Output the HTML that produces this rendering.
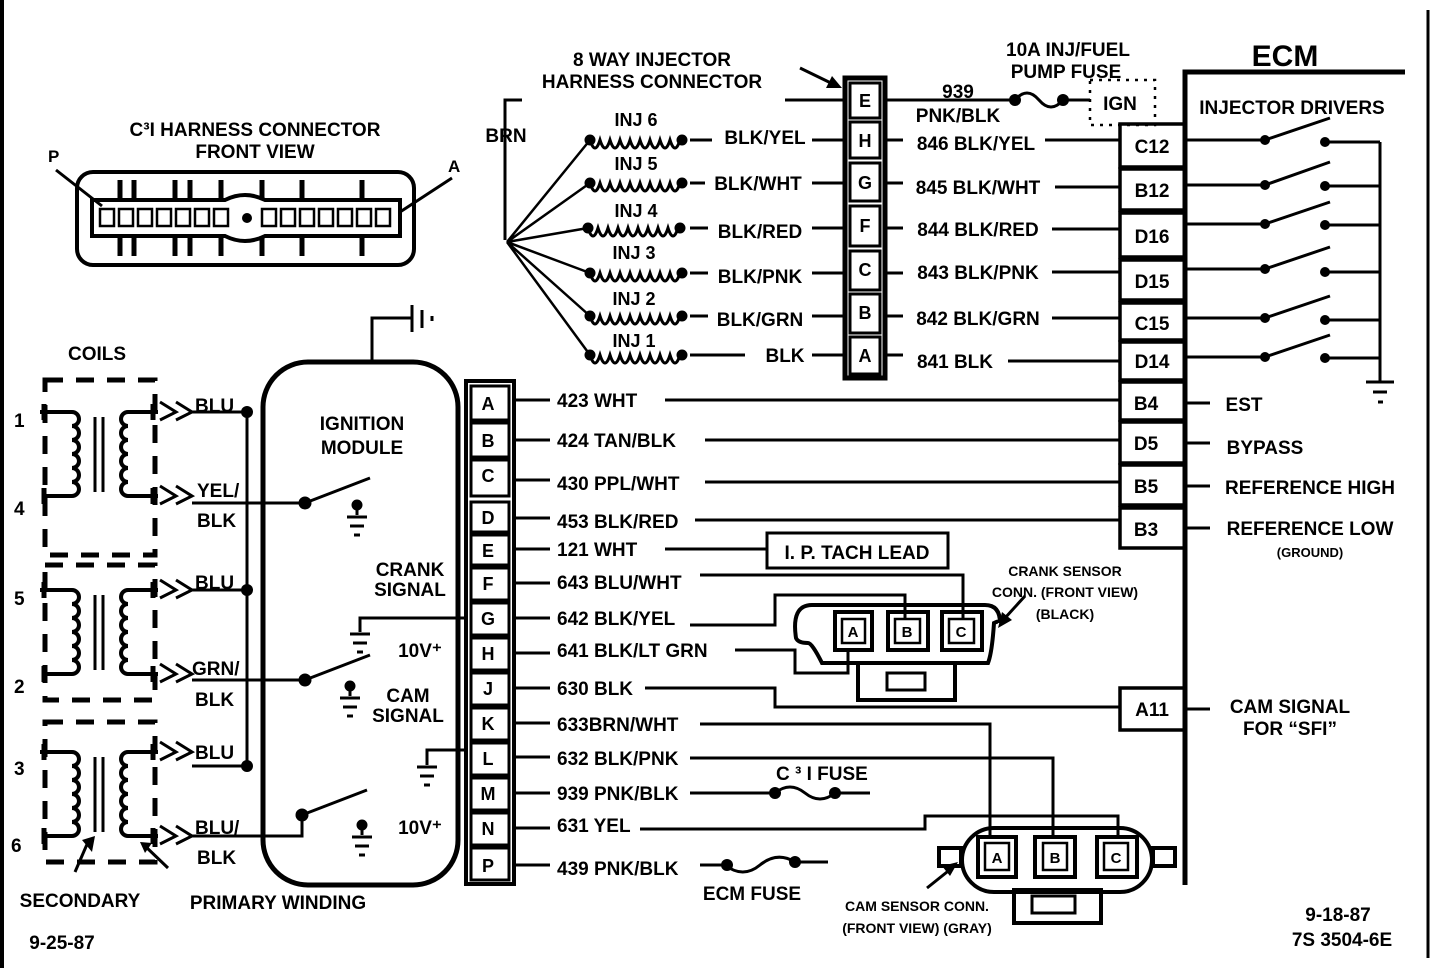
<!DOCTYPE html>
<html><head><meta charset="utf-8"><style>
html,body{margin:0;padding:0;background:#fff}
svg{display:block}
text{font-family:"Liberation Sans Narrow","Liberation Sans",sans-serif;font-weight:bold;fill:#000}
</style></head><body>
<svg width="1440" height="968" viewBox="0 0 1440 968" xmlns="http://www.w3.org/2000/svg">
<defs>
<g id="coil" fill="none" stroke="#000" stroke-width="4">
<path d="M40 0 H72 a7 7 0 0 1 0 14 a7 7 0 0 1 0 14 a7 7 0 0 1 0 14 a7 7 0 0 1 0 14 a7 7 0 0 1 0 14 a7 7 0 0 1 0 14 H44"/>
<path d="M158 0 H128 a7 7 0 0 0 0 14 a7 7 0 0 0 0 14 a7 7 0 0 0 0 14 a7 7 0 0 0 0 14 a7 7 0 0 0 0 14 a7 7 0 0 0 0 14 H158"/>
<path d="M44 -8 V8 M44 76 V92 M153 -8 V8 M153 76 V92" stroke-width="5"/>
<path d="M95 5 V80 M103 5 V80" stroke-width="3"/>
<path d="M160 -10 L176 0 L160 8 M176 -10 L192 0 L176 8 M160 74 L176 84 L160 92 M176 74 L192 84 L176 92" stroke-width="3"/>
</g>
<g id="gnd" stroke="#000" stroke-width="3">
<circle cx="0" cy="0" r="4" fill="#000"/>
<path d="M0 0 V10 M-10 12 H10 M-7 21 H7 M-3 30 H3" fill="none"/>
</g>
<g id="inj" fill="none" stroke="#000" stroke-width="3">
<path d="M0 0 q5 16 10 0 q5 16 10 0 q5 16 10 0 q5 16 10 0 q5 16 10 0 q5 16 10 0 q5 16 10 0 q5 16 10 0 q5 16 10 0"/>
<circle cx="0" cy="0" r="4" fill="#000"/><circle cx="92" cy="0" r="4" fill="#000"/>
</g>
<g id="sw" stroke="#000" stroke-width="3">
<circle cx="0" cy="0" r="5" fill="#000"/><path d="M0 0 L65 -25" fill="none"/>
</g>
</defs>
<rect width="1440" height="968" fill="#fff"/>
<g stroke="#000" fill="none">
<path d="M2 0 V968" stroke-width="4"/>
<path d="M1428 10 V958" stroke-width="3"/>
</g>

<text x="255" y="136" font-size="19" text-anchor="middle">C³I HARNESS CONNECTOR</text>
<text x="255" y="158" font-size="19" text-anchor="middle">FRONT  VIEW</text>
<text x="48" y="162" font-size="17">P</text>
<text x="448" y="172" font-size="17">A</text>
<g stroke="#000" fill="none" stroke-width="4">
<rect x="77" y="172" width="337" height="93" rx="16"/>
<path d="M92 200 H225 q20 -10 40 0 H400 V236 H265 q-20 10 -40 0 H92 Z"/>
<path d="M56 170 L102 206 M452 178 L400 212" stroke-width="3"/>
</g>
<g stroke="#000" stroke-width="5">
<path d="M120 180V200 M134 180V200 M175 180V200 M190 180V200 M221 180V200 M262 180V200 M302 180V200 M362 180V200"/>
<path d="M120 236V256 M134 236V256 M175 236V256 M190 236V256 M221 236V256 M262 236V256 M302 236V256 M362 236V256"/>
</g>
<g stroke="#000" fill="none" stroke-width="2.5">
<rect x="100" y="209" width="14" height="17"/><rect x="119" y="209" width="14" height="17"/><rect x="138" y="209" width="14" height="17"/><rect x="157" y="209" width="14" height="17"/><rect x="176" y="209" width="14" height="17"/><rect x="195" y="209" width="14" height="17"/><rect x="214" y="209" width="14" height="17"/>
<rect x="262" y="209" width="14" height="17"/><rect x="281" y="209" width="14" height="17"/><rect x="300" y="209" width="14" height="17"/><rect x="319" y="209" width="14" height="17"/><rect x="338" y="209" width="14" height="17"/><rect x="357" y="209" width="14" height="17"/><rect x="376" y="209" width="14" height="17"/>
</g>
<circle cx="247" cy="218" r="5"/>

<text x="97" y="360" font-size="19" text-anchor="middle">COILS</text>
<g fill="none" stroke="#000" stroke-width="5" stroke-dasharray="18 13">
<rect x="45" y="380" width="110" height="175"/>
<rect x="45" y="565" width="110" height="135"/>
<rect x="45" y="722" width="110" height="140"/>
</g>
<use href="#coil" x="0" y="412"/>
<use href="#coil" x="0" y="590"/>
<use href="#coil" x="0" y="752"/>
<g font-size="19">
<text x="14" y="427">1</text><text x="14" y="515">4</text><text x="14" y="605">5</text><text x="14" y="693">2</text><text x="14" y="775">3</text><text x="11" y="852">6</text>
<text x="195" y="412">BLU</text><text x="197" y="497">YEL/</text><text x="197" y="527">BLK</text>
<text x="195" y="589">BLU</text><text x="192" y="675">GRN/</text><text x="195" y="706">BLK</text>
<text x="195" y="759">BLU</text><text x="195" y="834">BLU/</text><text x="197" y="864">BLK</text>
<text x="80" y="907" text-anchor="middle">SECONDARY</text>
<text x="278" y="909" text-anchor="middle">PRIMARY WINDING</text>
<text x="62" y="949" text-anchor="middle">9-25-87</text>
</g>
<g stroke="#000" stroke-width="3" fill="none">
<path d="M192 412 H247 M192 590 H247 M192 766 H247 M247 410 V766"/>
<path d="M192 503 H305 M192 680 H305 M192 836 H302 V815"/>
<path d="M75 872 L88 842"/>
<path d="M168 868 L145 846"/>
</g>
<g fill="#000">
<circle cx="247" cy="412" r="6"/><circle cx="247" cy="590" r="6"/><circle cx="247" cy="766" r="6"/>
<path d="M82 840 L95 836 L92 852 Z"/>
<path d="M140 842 L152 843 L145 853 Z"/>
</g>
<rect x="263" y="362" width="195" height="523" rx="45" fill="none" stroke="#000" stroke-width="5"/>
<g stroke="#000" stroke-width="3" fill="none">
<path d="M372 362 V318 H412 M412 305 V332 M422 310 V328" />
<path d="M432 316 V321"/>
</g>
<text x="362" y="430" font-size="19" text-anchor="middle">IGNITION</text>
<text x="362" y="454" font-size="19" text-anchor="middle">MODULE</text>
<use href="#sw" x="305" y="503"/>
<use href="#gnd" x="357" y="505"/>
<use href="#sw" x="305" y="680"/>
<use href="#gnd" x="350" y="686"/>
<use href="#sw" x="302" y="815"/>
<use href="#gnd" x="362" y="825"/>
<g font-size="19" text-anchor="middle">
<text x="410" y="576">CRANK</text><text x="410" y="596">SIGNAL</text>
<text x="408" y="702">CAM</text><text x="408" y="722">SIGNAL</text>
<text x="420" y="657">10V⁺</text><text x="420" y="834">10V⁺</text>
</g>
<g stroke="#000" stroke-width="3" fill="none">
<path d="M468 618 H360 V632 M350 634 H370 M353 643 H367 M357 652 H363"/>
<path d="M468 750 H427 V765 M417 767 H437 M420 776 H434 M424 785 H430"/>
</g>

<rect x="466" y="381" width="48" height="503" fill="none" stroke="#000" stroke-width="4"/>
<g fill="none" stroke="#000" stroke-width="3">
<rect x="471" y="386" width="38" height="34"/><rect x="471" y="423" width="38" height="34"/><rect x="471" y="460" width="38" height="36"/><rect x="471" y="502" width="38" height="30"/><rect x="471" y="535" width="38" height="30"/><rect x="471" y="568" width="38" height="32"/><rect x="471" y="603" width="38" height="32"/><rect x="471" y="638" width="38" height="32"/><rect x="471" y="673" width="38" height="32"/><rect x="471" y="708" width="38" height="32"/><rect x="471" y="743" width="38" height="32"/><rect x="471" y="778" width="38" height="32"/><rect x="471" y="813" width="38" height="32"/><rect x="471" y="848" width="38" height="32"/>
</g>
<g font-size="18" text-anchor="middle">
<text x="488" y="410">A</text><text x="488" y="447">B</text><text x="488" y="482">C</text><text x="488" y="524">D</text><text x="488" y="557">E</text><text x="488" y="590">F</text><text x="488" y="625">G</text><text x="488" y="660">H</text><text x="488" y="695">J</text><text x="488" y="730">K</text><text x="488" y="765">L</text><text x="488" y="800">M</text><text x="488" y="835">N</text><text x="488" y="872">P</text>
</g>
<g font-size="19">
<text x="557" y="407">423 WHT</text>
<text x="557" y="447">424 TAN/BLK</text>
<text x="557" y="490">430 PPL/WHT</text>
<text x="557" y="528">453 BLK/RED</text>
<text x="557" y="556">121 WHT</text>
<text x="557" y="589">643 BLU/WHT</text>
<text x="557" y="625">642 BLK/YEL</text>
<text x="557" y="657">641 BLK/LT GRN</text>
<text x="557" y="695">630 BLK</text>
<text x="557" y="731">633BRN/WHT</text>
<text x="557" y="765">632 BLK/PNK</text>
<text x="557" y="800">939 PNK/BLK</text>
<text x="557" y="832">631 YEL</text>
<text x="557" y="875">439 PNK/BLK</text>
<text x="776" y="780">C ³ I FUSE</text>
<text x="752" y="900" text-anchor="middle">ECM FUSE</text>
</g>
<g stroke="#000" stroke-width="3" fill="none">
<path d="M514 400 H550 M665 400 H1120"/>
<path d="M514 440 H550 M705 440 H1120"/>
<path d="M514 480 H550 M705 482 H1120"/>
<path d="M514 518 H550 M695 520 H1120"/>
<path d="M514 549 H550 M665 549 H767"/>
<path d="M514 583 H550 M700 575 H963 V620"/>
<path d="M514 618 H550 M690 625 H775 V595 H905 V620"/>
<path d="M514 653 H550 M735 650 H795 V673 H848 V648"/>
<path d="M514 688 H550 M645 688 H775 V707 H1120"/>
<path d="M514 723 H550 M700 724 H990 V837"/>
<path d="M514 757 H550 M690 758 H1053 V837"/>
<path d="M514 793 H550 M690 793 H775 M835 793 H870"/>
<path d="M514 828 H550 M640 829 H925 V816 H1118 V837"/>
<path d="M514 865 H550 M700 865 H725 M795 862 H828"/>
<path d="M775 793 q15 -12 30 0 t30 0"/>
<path d="M725 865 q18 14 35 0 t35 -3"/>
</g>
<g fill="#000"><circle cx="775" cy="793" r="6"/><circle cx="835" cy="793" r="6"/><circle cx="727" cy="865" r="6"/><circle cx="795" cy="862" r="6"/></g>
<rect x="767" y="533" width="181" height="35" fill="none" stroke="#000" stroke-width="3"/>
<text x="857" y="559" font-size="19" text-anchor="middle">I. P. TACH LEAD</text>

<g stroke="#000" fill="none" stroke-width="4">
<path d="M812 605 H985 q15 0 15 18 q0 -3 -6 0 q-2 30 -6 40 H822 q-10 -20 -14 -20 q-10 0 -12 -5 q-5 -33 16 -33 Z"/>
<rect x="858" y="663" width="97" height="37"/>
<rect x="887" y="673" width="38" height="17" stroke-width="3"/>
<rect x="835" y="612" width="37" height="38"/><rect x="888" y="612" width="40" height="38"/><rect x="942" y="612" width="40" height="38"/>
<rect x="842" y="619" width="23" height="24" stroke-width="2.5"/><rect x="895" y="619" width="25" height="24" stroke-width="2.5"/><rect x="949" y="619" width="25" height="24" stroke-width="2.5"/>
</g>
<g font-size="15" text-anchor="middle"><text x="853" y="637">A</text><text x="907" y="637">B</text><text x="961" y="637">C</text></g>
<path d="M1025 596 L1005 618" stroke="#000" stroke-width="3"/><path d="M998 628 L1002 612 L1012 620 Z"/>
<g font-size="14" text-anchor="middle">
<text x="1065" y="576">CRANK SENSOR</text><text x="1065" y="597">CONN. (FRONT VIEW)</text><text x="1065" y="619">(BLACK)</text>
<text x="917" y="911">CAM SENSOR CONN.</text><text x="917" y="933">(FRONT VIEW) (GRAY)</text>
</g>

<g stroke="#000" fill="none" stroke-width="4">
<rect x="962" y="828" width="190" height="64" rx="32"/>
<rect x="939" y="848" width="22" height="18"/><rect x="1153" y="848" width="22" height="18"/>
<rect x="1014" y="890" width="87" height="33"/>
<rect x="1032" y="896" width="43" height="17" stroke-width="3"/>
<rect x="978" y="837" width="38" height="40"/><rect x="1035" y="837" width="40" height="40"/><rect x="1097" y="837" width="40" height="40"/>
<rect x="985" y="843" width="24" height="27" stroke-width="2.5"/><rect x="1043" y="843" width="24" height="27" stroke-width="2.5"/><rect x="1104" y="843" width="24" height="27" stroke-width="2.5"/>
</g>
<g font-size="15" text-anchor="middle"><text x="997" y="863">A</text><text x="1055" y="863">B</text><text x="1116" y="863">C</text></g>
<path d="M927 888 L952 868" stroke="#000" stroke-width="3"/><path d="M958 862 L942 866 L950 876 Z"/>

<g font-size="19" text-anchor="middle">
<text x="652" y="66">8 WAY INJECTOR</text><text x="652" y="88">HARNESS CONNECTOR</text>
<text x="1068" y="56">10A INJ/FUEL</text><text x="1066" y="78">PUMP FUSE</text>
<text x="958" y="98">939</text><text x="958" y="122">PNK/BLK</text>
<text x="1120" y="110">IGN</text>
<text x="506" y="142">BRN</text>
</g>
<path d="M800 68 L835 85" stroke="#000" stroke-width="3"/><path d="M842 88 L826 88 L832 76 Z"/>
<rect x="845" y="78" width="40" height="300" fill="none" stroke="#000" stroke-width="5"/>
<g fill="none" stroke="#000" stroke-width="3">
<rect x="850" y="83" width="30" height="35"/><rect x="850" y="122" width="30" height="36"/><rect x="850" y="163" width="30" height="38"/><rect x="850" y="206" width="30" height="40"/><rect x="850" y="251" width="30" height="39"/><rect x="850" y="294" width="30" height="39"/><rect x="850" y="337" width="30" height="37"/>
</g>
<g font-size="18" text-anchor="middle">
<text x="865" y="107">E</text><text x="865" y="147">H</text><text x="865" y="189">G</text><text x="865" y="232">F</text><text x="865" y="276">C</text><text x="865" y="319">B</text><text x="865" y="362">A</text>
</g>
<g stroke="#000" stroke-width="3" fill="none">
<path d="M785 100 H845 M885 100 H1015 M1063 100 H1090"/>
<path d="M1015 100 q12 -14 24 0 t24 0"/>
<rect x="1090" y="80" width="65" height="45" stroke-dasharray="3 6" stroke-width="2.5"/>
<path d="M522 100 H505 V240"/>
<path d="M507 242 L590 140 M507 242 L590 183 M507 242 L588 228 M507 242 L590 273 M507 242 L590 316 M507 242 L590 355" stroke-width="2.5"/>
<path d="M690 140 H712 M812 140 H845 M885 140 H903 M1045 140 H1120"/>
<path d="M690 183 H705 M812 183 H845 M885 183 H903 M1055 187 H1120"/>
<path d="M690 228 H708 M812 228 H845 M885 228 H903 M1052 229 H1120"/>
<path d="M690 273 H708 M812 273 H845 M885 273 H903 M1052 272 H1120"/>
<path d="M690 316 H708 M812 316 H845 M885 316 H903 M1052 318 H1120"/>
<path d="M690 355 H745 M812 355 H845 M885 355 H903 M1008 361 H1120"/>
</g>
<circle cx="1015" cy="100" r="6"/><circle cx="1063" cy="100" r="6"/>
<use href="#inj" x="590" y="140"/><use href="#inj" x="590" y="183"/><use href="#inj" x="588" y="228"/><use href="#inj" x="590" y="273"/><use href="#inj" x="590" y="316"/><use href="#inj" x="590" y="355"/>
<g font-size="18" text-anchor="middle">
<text x="636" y="126">INJ 6</text><text x="636" y="170">INJ 5</text><text x="636" y="217">INJ 4</text><text x="634" y="259">INJ 3</text><text x="634" y="305">INJ 2</text><text x="634" y="347">INJ 1</text>
</g>
<g font-size="19" text-anchor="middle">
<text x="765" y="144">BLK/YEL</text><text x="758" y="190">BLK/WHT</text><text x="760" y="238">BLK/RED</text><text x="760" y="283">BLK/PNK</text><text x="760" y="326">BLK/GRN</text><text x="785" y="362">BLK</text>
<text x="976" y="150">846 BLK/YEL</text><text x="978" y="194">845 BLK/WHT</text><text x="978" y="236">844 BLK/RED</text><text x="978" y="279">843 BLK/PNK</text><text x="978" y="325">842 BLK/GRN</text><text x="955" y="368">841 BLK</text>
</g>

<text x="1285" y="66" font-size="30" text-anchor="middle">ECM</text>
<path d="M1405 72 H1185 V885" stroke="#000" stroke-width="5" fill="none"/>
<g fill="none" stroke="#000" stroke-width="3.5">
<rect x="1120" y="124" width="65" height="43"/><rect x="1120" y="169" width="65" height="41"/><rect x="1120" y="213" width="65" height="44"/><rect x="1120" y="260" width="65" height="40"/><rect x="1120" y="303" width="65" height="37"/><rect x="1120" y="342" width="65" height="38"/>
<rect x="1120" y="382" width="65" height="38"/><rect x="1120" y="422" width="65" height="41"/><rect x="1120" y="465" width="65" height="40"/><rect x="1120" y="508" width="65" height="40"/>
<rect x="1120" y="688" width="65" height="42"/>
</g>
<g font-size="19" text-anchor="middle">
<text x="1152" y="153">C12</text><text x="1152" y="197">B12</text><text x="1152" y="243">D16</text><text x="1152" y="288">D15</text><text x="1152" y="330">C15</text><text x="1152" y="368">D14</text>
<text x="1146" y="410">B4</text><text x="1146" y="450">D5</text><text x="1146" y="493">B5</text><text x="1146" y="536">B3</text><text x="1152" y="716">A11</text>
<text x="1292" y="114">INJECTOR DRIVERS</text>
<text x="1244" y="411">EST</text><text x="1265" y="454">BYPASS</text><text x="1310" y="494">REFERENCE HIGH</text><text x="1310" y="535">REFERENCE LOW</text>
<text x="1290" y="713">CAM SIGNAL</text><text x="1290" y="735">FOR “SFI”</text>
<text x="1338" y="921">9-18-87</text><text x="1342" y="946">7S 3504-6E</text>
</g>
<text x="1310" y="557" font-size="13" text-anchor="middle">(GROUND)</text>
<g stroke="#000" stroke-width="3" fill="none">
<path d="M1185 140 H1265 M1185 185 H1265 M1185 224 H1265 M1185 269 H1265 M1185 318 H1265 M1185 357 H1265"/>
<path d="M1265 140 L1330 118 M1265 185 L1330 162 M1265 224 L1330 202 M1265 269 L1330 247 M1265 318 L1330 296 M1265 357 L1330 335"/>
<path d="M1325 142 H1380 M1325 186 H1380 M1325 225 H1380 M1325 272 H1380 M1325 320 H1380 M1325 358 H1380 M1380 142 V382 M1366 382 H1394 M1373 392 H1387 M1378 402 H1383"/>
<path d="M1185 403 H1210 M1185 443 H1210 M1185 486 H1210 M1185 528 H1210 M1185 709 H1210"/>
</g>
<g fill="#000">
<circle cx="1265" cy="140" r="5"/><circle cx="1265" cy="185" r="5"/><circle cx="1265" cy="224" r="5"/><circle cx="1265" cy="269" r="5"/><circle cx="1265" cy="318" r="5"/><circle cx="1265" cy="357" r="5"/>
<circle cx="1325" cy="142" r="5"/><circle cx="1325" cy="186" r="5"/><circle cx="1325" cy="225" r="5"/><circle cx="1325" cy="272" r="5"/><circle cx="1325" cy="320" r="5"/><circle cx="1325" cy="358" r="5"/>
</g>
</svg>
</body></html>
